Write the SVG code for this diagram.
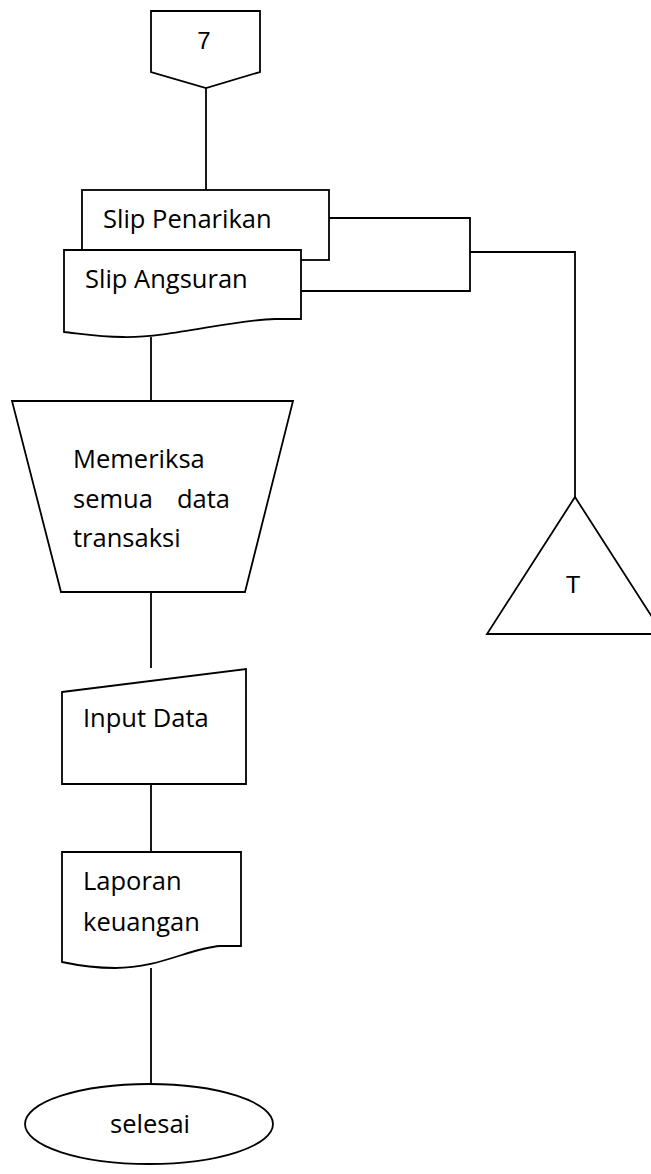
<svg xmlns="http://www.w3.org/2000/svg" width="651" height="1174" viewBox="0 0 651 1174">
  <style>
    .shape { fill: #ffffff; stroke: #000000; stroke-width: 1.8; stroke-linejoin: miter; }
    .wire { fill: none; stroke: #000000; stroke-width: 1.8; }
    .lbl { font-family: "Open Sans", "Liberation Sans", sans-serif; font-size: 25.5px; fill: #000000; }
    .sym { font-family: "Liberation Sans", Arial, sans-serif; font-size: 24px; fill: #000000; }
  </style>
  <rect width="651" height="1174" fill="#ffffff"/>

  <!-- connectors -->
  <g id="connectors">
    <line class="wire" x1="206" y1="88" x2="206" y2="190"/>
    <polyline class="wire" points="329,218 470,218 470,291 301,291"/>
    <polyline class="wire" points="470,252 575,252 575,497"/>
    <line class="wire" x1="151" y1="337" x2="151" y2="401"/>
    <line class="wire" x1="151" y1="592" x2="151" y2="668"/>
    <line class="wire" x1="151" y1="784" x2="151" y2="852"/>
    <line class="wire" x1="151" y1="968" x2="151" y2="1084"/>
  </g>

  <!-- off-page connector 7 -->
  <g id="node-7">
    <path class="shape" d="M151,11 H260 V72 L206,88 L151,72 Z"/>
    <text class="sym" x="204" y="49" text-anchor="middle">7</text>
  </g>

  <!-- document: Slip Penarikan (behind) -->
  <g id="node-slip-penarikan">
    <rect class="shape" x="82" y="190" width="247" height="70"/>
    <text class="lbl" x="103" y="228">Slip Penarikan</text>
  </g>

  <!-- document: Slip Angsuran -->
  <g id="node-slip-angsuran">
    <path class="shape" d="M64,250 H301 V319 H275 C230,320 170,338 123,337 C100,337 82,334 64,332 Z"/>
    <text class="lbl" x="85" y="288">Slip Angsuran</text>
  </g>

  <!-- manual operation -->
  <g id="node-memeriksa">
    <path class="shape" d="M12,401 H293 L245,592 H61 Z"/>
    <text class="lbl" x="73" y="468">Memeriksa</text>
    <text class="lbl" x="73" y="508">semua</text>
    <text class="lbl" x="230" y="508" text-anchor="end">data</text>
    <text class="lbl" x="73" y="547">transaksi</text>
  </g>

  <!-- offline storage T -->
  <g id="node-t">
    <path class="shape" d="M575,497 L663,634 H487 Z"/>
    <text class="sym" x="573" y="593" text-anchor="middle">T</text>
  </g>

  <!-- manual input -->
  <g id="node-input-data">
    <path class="shape" d="M62,692 L246,669 V784 H62 Z"/>
    <text class="lbl" x="83" y="727">Input Data</text>
  </g>

  <!-- document: Laporan keuangan -->
  <g id="node-laporan">
    <path class="shape" d="M62,852 H241 V946 H220 C190,948 160,968 115,968 C92,968 76,965 62,962 Z"/>
    <text class="lbl" x="83" y="890">Laporan</text>
    <text class="lbl" x="83" y="931">keuangan</text>
  </g>

  <!-- terminator -->
  <g id="node-selesai">
    <ellipse class="shape" cx="149" cy="1124" rx="124" ry="40"/>
    <text class="lbl" x="110" y="1133">selesai</text>
  </g>
</svg>
